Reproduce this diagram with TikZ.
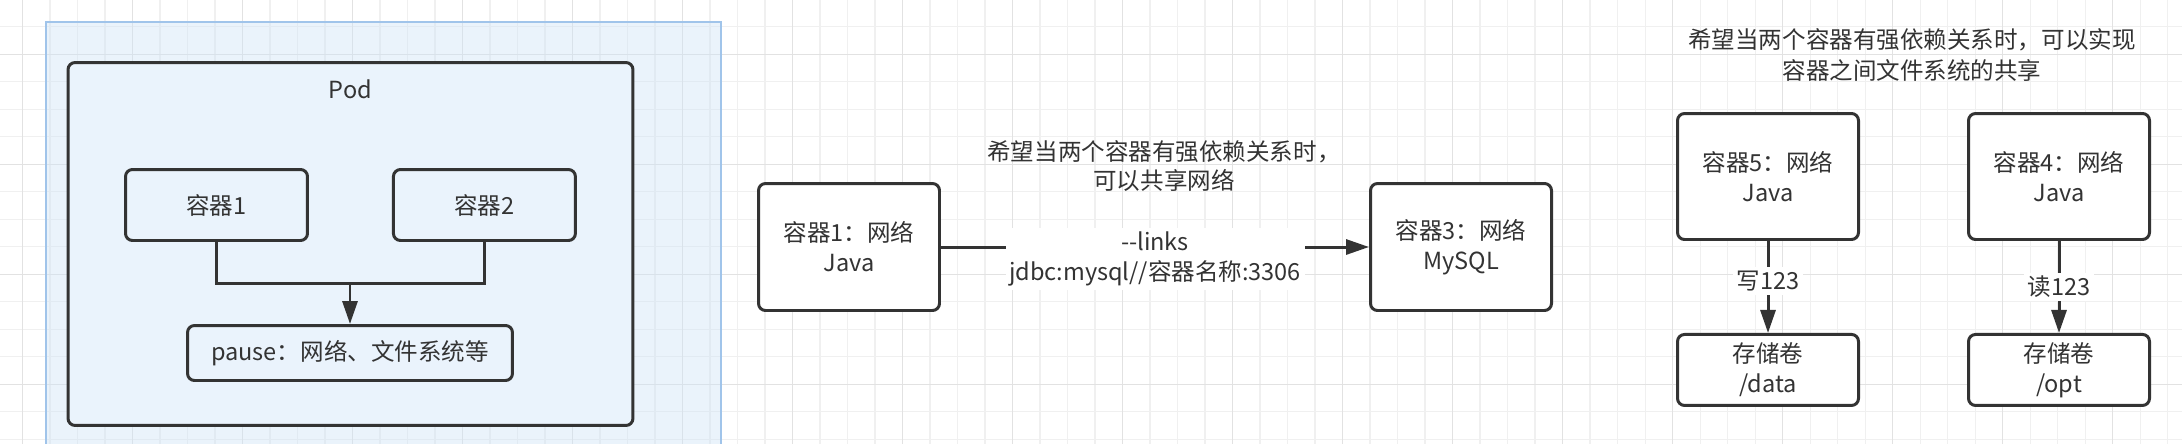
\documentclass[tikz,border=0pt]{standalone}
\usepackage{fontspec}
\setmainfont{Noto Sans CJK SC}
\usetikzlibrary{positioning,arrows.meta}
\definecolor{Ink}{RGB}{51,51,51}
\definecolor{GridMinor}{RGB}{240,240,240}
\definecolor{GridMajor}{RGB}{226,226,226}
\definecolor{SelFill}{RGB}{204,226,247}
\definecolor{SelLine}{RGB}{160,196,234}
\definecolor{PodFill}{RGB}{234,243,252}

\begin{document}
\begin{tikzpicture}[x=0.02cm,y=-0.02cm,
 font=\fontsize{13.4}{17}\selectfont,text=Ink,
 bx/.style={rectangle,rounded corners=0.14cm,draw=Ink,line width=1.7pt,fill=white,align=center,inner sep=2pt},
 ar/.style={-{Triangle[length=0.46cm,width=0.3cm]},line width=1.7pt,draw=Ink},
 ln/.style={line width=1.7pt,draw=Ink},
 lb/.style={fill=white,inner sep=2pt,align=center}]
\useasboundingbox (0,0) rectangle (2182,444);
\fill[white] (0,0) rectangle (2182,444);
% grid
\foreach \i in {0,...,79} \draw[GridMinor,line width=0.6pt] (22.5+27.5*\i,0) -- (22.5+27.5*\i,444);
\foreach \j in {0,...,16} \draw[GridMinor,line width=0.6pt] (0,-0.8+27.5*\j) -- (2182,-0.8+27.5*\j);
\foreach \i in {0,4,...,76} \draw[GridMajor,line width=0.6pt] (22.5+27.5*\i,0) -- (22.5+27.5*\i,444);
\foreach \j in {2,6,10,14} \draw[GridMajor,line width=0.6pt] (0,-0.8+27.5*\j) -- (2182,-0.8+27.5*\j);
% selected pod
\fill[SelFill,opacity=.4] (46,22) rectangle (721,444);
\draw[SelLine,line width=0.8pt] (46,444) -- (46,22) -- (721,22) -- (721,444);
\node[bx,fill=PodFill,minimum width=11.3cm,minimum height=7.26cm] (pod) at (350.5,244) {};
\node (podt) at ([yshift=-0.56cm]pod.north) {Pod};
\node[bx,fill=PodFill,minimum width=3.64cm,minimum height=1.42cm] (c1) at (216.5,205) {容器1};
\node[bx,fill=PodFill,minimum width=3.64cm,minimum height=1.42cm,right=1.66cm of c1] (c2) {容器2};
\node[bx,fill=PodFill,minimum width=6.5cm,minimum height=1.1cm] (ps) at (350,353) {pause：网络、文件系统等};
\coordinate (jn) at (ps.north |- 0,283);
\draw[ln] (c1.south) |- (jn) -| (c2.south);
\draw[ar] (jn) -- (ps);
% shared network
\node[align=center,font=\fontsize{13.4}{16}\selectfont] (t1) at (1164,166) {希望当两个容器有强依赖关系时，\\可以共享网络};
\node[bx,minimum width=3.62cm,minimum height=2.54cm] (j1) at (849,247) {容器1：网络\\Java};
\node[bx,minimum width=3.62cm,minimum height=2.54cm] (m3) at (1461,247) {容器3：网络\\MySQL};
\draw[ar] (j1) -- node[lb,yshift=-0.24cm] (lk) {-{}-links\\jdbc:mysql//容器名称:3306} (m3);
% shared volume
\node[align=center,font=\fontsize{13.4}{17.5}\selectfont] (t2) at (1912,55) {希望当两个容器有强依赖关系时，可以实现\\容器之间文件系统的共享};
\node[bx,minimum width=3.62cm,minimum height=2.52cm] (c5) at (1768,176.5) {容器5：网络\\Java};
\node[bx,minimum width=3.62cm,minimum height=2.52cm] (c4) at (2059,176.5) {容器4：网络\\Java};
\node[bx,minimum width=3.62cm,minimum height=1.42cm,below=1.84cm of c5] (v1) {存储卷\\/data};
\node[bx,minimum width=3.62cm,minimum height=1.42cm,below=1.84cm of c4] (v2) {存储卷\\/opt};
\draw[ar] (c5) -- node[lb,yshift=0.12cm] {写123} (v1);
\draw[ar] (c4) -- node[lb] {读123} (v2);
\end{tikzpicture}
\end{document}
